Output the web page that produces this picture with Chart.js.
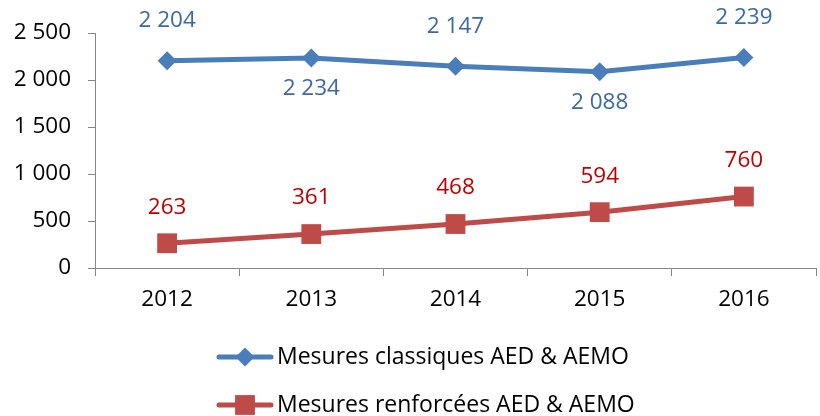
<!DOCTYPE html>
<html>
<head>
<meta charset="utf-8">
<script src="https://cdn.jsdelivr.net/npm/chart.js@4"></script>
<style>
  html, body { margin: 0; padding: 0; background: #fff; overflow: hidden; }
  #wrap { width: 830px; height: 416px; position: relative; }
</style>
</head>
<body>
<div id="wrap"><canvas id="myChart"></canvas></div>
<script>
const years = ["2012", "2013", "2014", "2015", "2016"];
const classiques = [2204, 2234, 2147, 2088, 2239];
const renforcees = [263, 361, 468, 594, 760];
const yTicks = [0, 500, 1000, 1500, 2000, 2500];
const seriesNames = ["Mesures classiques AED & AEMO", "Mesures renforcées AED & AEMO"];
// label side for each point: -1 above, 1 below
const classiquesSide = [-1, 1, -1, 1, -1];
const renforceesSide = [-1, -1, -1, -1, -1];

const FONT = "'Open Sans', 'Noto Sans', sans-serif";

function fmt(v) {
  return String(v).replace(/\B(?=(\d{3})+(?!\d))/g, " ");
}

const labelsPlugin = {
  id: "pointLabels",
  afterDatasetsDraw(chart) {
    const ctx = chart.ctx;
    ctx.save();
    ctx.font = "22.5px " + FONT;
    ctx.textAlign = "center";
    ctx.textBaseline = "middle";
    chart.data.datasets.forEach((ds, i) => {
      const meta = chart.getDatasetMeta(i);
      meta.data.forEach((pt, j) => {
        const side = ds.labelSide[j];
        const off = side < 0 ? (i === 0 ? 40 : 36) : 31;
        ctx.fillStyle = ds.labelColor;
        ctx.fillText(fmt(ds.data[j]), pt.x, pt.y + side * off);
      });
    });
    ctx.restore();
  },
  afterDraw(chart) {
    // legend: line + marker, one row per series
    const ctx = chart.ctx;
    ctx.save();
    ctx.font = "23px " + FONT;
    ctx.textBaseline = "middle";
    ctx.textAlign = "left";
    const rows = [357, 405];
    chart.data.datasets.forEach((ds, i) => {
      const y = rows[i];
      ctx.strokeStyle = ds.borderColor;
      ctx.lineWidth = 5;
      ctx.lineCap = "round";
      ctx.beginPath();
      ctx.moveTo(219, y);
      ctx.lineTo(271, y);
      ctx.stroke();
      ctx.fillStyle = ds.borderColor;
      Chart.helpers.drawPoint(ctx, { pointStyle: ds.pointStyle, radius: ds.pointRadius, borderWidth: 0 }, 245, y);
      ctx.fillStyle = "#000";
      ctx.fillText(ds.label, 277, y);
    });
    ctx.restore();
  }
};

new Chart(document.getElementById("myChart"), {
  type: "line",
  data: {
    labels: years,
    datasets: [
      {
        label: seriesNames[0],
        data: classiques,
        borderColor: "#4a7ebb",
        backgroundColor: "#4a7ebb",
        borderWidth: 5,
        pointStyle: "rectRot",
        pointRadius: 9.5,
        pointBorderWidth: 0,
        labelColor: "#3a6aa3",
        labelSide: classiquesSide,
        tension: 0,
      },
      {
        label: seriesNames[1],
        data: renforcees,
        borderColor: "#be4b48",
        backgroundColor: "#be4b48",
        borderWidth: 5,
        pointStyle: "rect",
        pointRadius: 14,
        pointBorderWidth: 0,
        labelColor: "#c00000",
        labelSide: renforceesSide,
        tension: 0,
      },
    ],
  },
  options: {
    responsive: true,
    maintainAspectRatio: false,
    animation: false,
    layout: { padding: { top: 33, right: 0, bottom: 0, left: 0 } },
    plugins: {
      legend: { display: false },
      tooltip: { enabled: false },
    },
    scales: {
      x: {
        offset: true,
        grid: {
          offset: true,
          drawOnChartArea: false,
          drawTicks: true,
          tickLength: 8,
          color: "#868686",
        },
        border: { color: "#868686", width: 1 },
        ticks: { color: "#000", font: { family: FONT, size: 22.5 }, padding: 10 },
        afterFit: (s) => { s.height = 148; },
      },
      y: {
        min: 0,
        max: 2500,
        afterBuildTicks: (s) => { s.ticks = yTicks.map((v) => ({ value: v })); },
        grid: {
          drawOnChartArea: false,
          drawTicks: true,
          tickLength: 7,
          color: "#868686",
        },
        border: { color: "#868686", width: 1 },
        ticks: {
          color: "#000",
          font: { family: FONT, size: 22.5 },
          padding: 17,
          callback: (v) => fmt(v),
        },
        afterFit: (s) => { s.width = 95; },
      },
    },
  },
  plugins: [labelsPlugin],
});
</script>
</body>
</html>
